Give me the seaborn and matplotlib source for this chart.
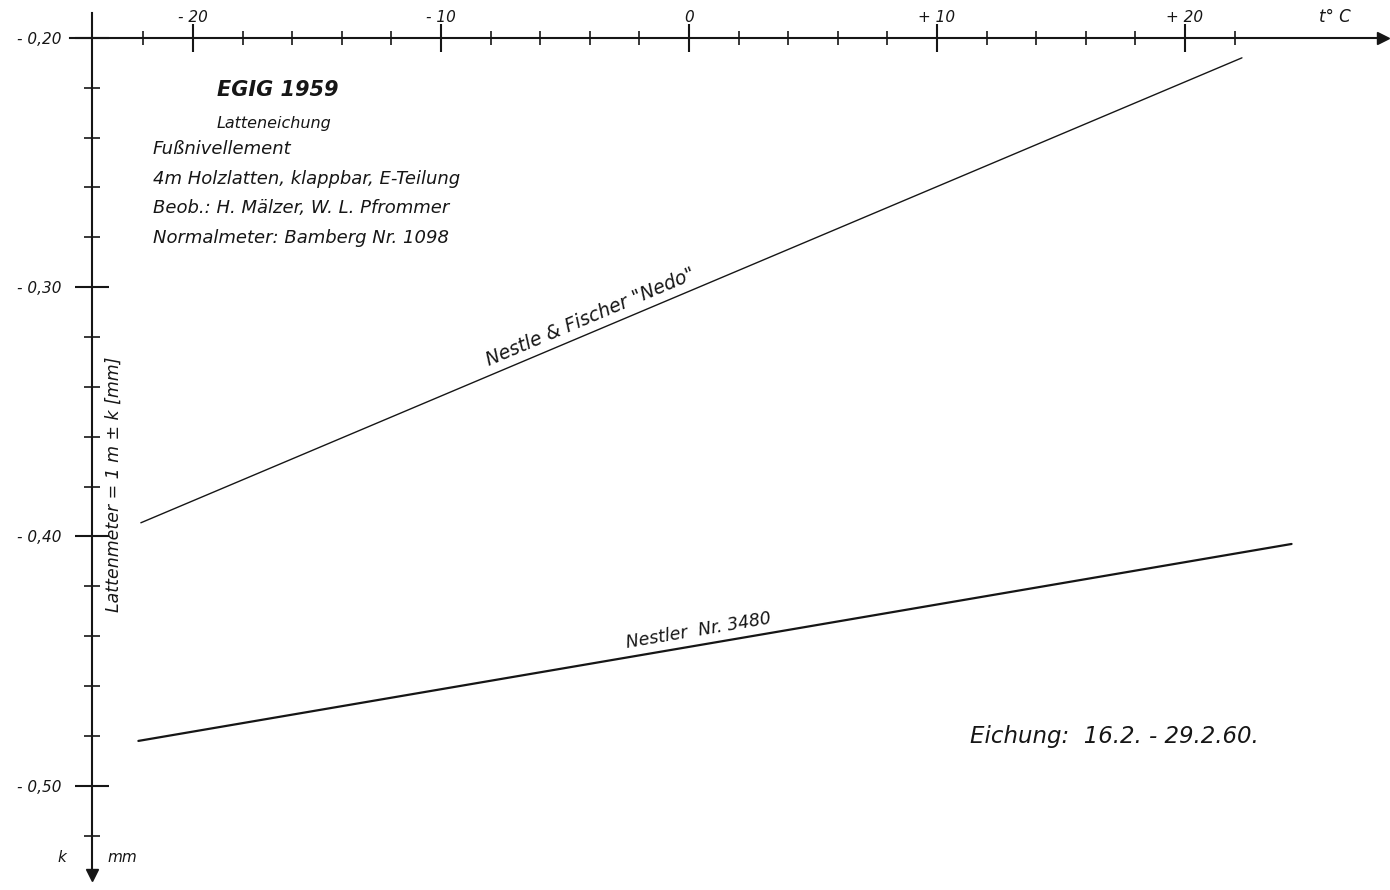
import numpy as np
import matplotlib
matplotlib.use("Agg")
import matplotlib.pyplot as plt
import seaborn as sns

# ------------------------------------------------------
# Values (t in deg C, k in mm)
# ------------------------------------------------------
nedo_t = [-22.1, 22.3]
nedo_k = [-0.3945, -0.208]
nestler_t = [-22.2, 24.3]
nestler_k = [-0.482, -0.403]

t_major = [-20, -10, 0, 10, 20]
t_major_labels = ["- 20", "- 10", "0", "+ 10", "+ 20"]
t_minor = list(range(-22, 24, 2))
k_major = [-0.20, -0.30, -0.40, -0.50]
k_major_labels = ["- 0,20", "- 0,30", "- 0,40", "- 0,50"]
k_minor = [round(-0.20 - 0.02 * i, 2) for i in range(17)]

info_lines = [
    "Latteneichung",
    "Fußnivellement",
    "4m Holzlatten, klappbar, E-Teilung",
    "Beob.: H. Mälzer, W. L. Pfrommer",
    "Normalmeter: Bamberg Nr. 1098",
]

INK = "#161616"

sns.set_theme(style="ticks")
plt.rcParams["font.family"] = ["DejaVu Sans"]
plt.rcParams["font.style"] = "oblique"

fig = plt.figure(figsize=(13.9, 8.9), dpi=100)
ax = fig.add_axes([0, 0, 1, 1])
ax.set_xlim(-27.78, 28.27)
ax.set_ylim(-0.5418, -0.1848)

# ======================================================
# Axes drawn as spines crossing at (-24, -0.20)
# ======================================================
ax.spines["right"].set_visible(False)
ax.spines["bottom"].set_visible(False)
ax.spines["left"].set_position(("data", -24.07))
ax.spines["top"].set_position(("data", -0.20))
ax.spines["left"].set_bounds(-0.5357, -0.190)
ax.spines["top"].set_bounds(-24.96, 28.0)
for s in ("left", "top"):
    ax.spines[s].set_color(INK)
    ax.spines[s].set_linewidth(1.5)

ax.xaxis.set_ticks_position("top")
ax.yaxis.set_ticks_position("left")
ax.set_xticks(t_major)
ax.set_xticklabels(t_major_labels)
ax.set_xticks(t_minor, minor=True)
ax.set_yticks(k_major)
ax.set_yticklabels(k_major_labels)
ax.set_yticks(k_minor, minor=True)

ax.tick_params(axis="x", which="major", direction="inout", length=20, width=1.5,
               color=INK, pad=-0.5, labelsize=11, labelcolor=INK)
ax.tick_params(axis="x", which="minor", direction="inout", length=10, width=1.2,
               color=INK)
ax.tick_params(axis="y", which="major", direction="inout", length=24, width=1.5,
               color=INK, pad=10, labelsize=11, labelcolor=INK, left=True)
ax.tick_params(axis="y", which="minor", direction="inout", length=12, width=1.2,
               color=INK, left=True)
ax.grid(False)

# arrow heads
ax.plot([28.0], [-0.20], marker=">", ms=9, color=INK, clip_on=False)
ax.plot([-24.07], [-0.5357], marker="v", ms=8, color=INK, clip_on=False)

# ======================================================
# Calibration lines
# ======================================================
sns.lineplot(x=nedo_t, y=nedo_k, ax=ax, color=INK, lw=1.0)
sns.lineplot(x=nestler_t, y=nestler_k, ax=ax, color=INK, lw=1.6)


def screen_angle(ts, ks):
    p = ax.transData.transform(np.column_stack([ts, ks]))
    return np.degrees(np.arctan2(p[1, 1] - p[0, 1], p[1, 0] - p[0, 0]))


def on_line(ts, ks, t):
    return float(np.interp(t, ts, ks))


a1 = screen_angle(nedo_t, nedo_k)
ax.text(-3.8, on_line(nedo_t, nedo_k, -3.8) + 0.002, 'Nestle & Fischer "Nedo"',
        rotation=a1, rotation_mode="anchor", ha="center", va="bottom",
        fontsize=13.5, color=INK)

a2 = screen_angle(nestler_t, nestler_k)
ax.text(0.45, on_line(nestler_t, nestler_k, 0.45) + 0.002, "Nestler  Nr. 3480",
        rotation=a2, rotation_mode="anchor", ha="center", va="bottom",
        fontsize=12.5, color=INK)

# ======================================================
# Lettering
# ======================================================
ax.text(-19.03, -0.2209, "EGIG 1959", fontsize=15, fontweight="bold",
        ha="left", va="center", color=INK)
ax.text(-19.03, -0.2345, info_lines[0], fontsize=11.5, ha="left", va="center", color=INK)
for txt, k in zip(info_lines[1:], [-0.2445, -0.2566, -0.2682, -0.2802]):
    ax.text(-21.61, k, txt, fontsize=13, ha="left", va="center", color=INK)

ax.text(-23.2, -0.3789, "Lattenmeter = 1 m ± k [mm]", rotation=90,
        fontsize=12.5, ha="center", va="center", color=INK)

ax.text(11.33, -0.4804, "Eichung:  16.2. - 29.2.60.", fontsize=16.5,
        ha="left", va="center", color=INK)

ax.text(26.05, -0.1916, "t° C", fontsize=12, ha="center", va="center", color=INK)
ax.text(-25.28, -0.5289, "k", fontsize=11, ha="center", va="center", color=INK)
ax.text(-22.86, -0.5289, "mm", fontsize=11, ha="center", va="center", color=INK)

fig.savefig("out.png", dpi=100)
